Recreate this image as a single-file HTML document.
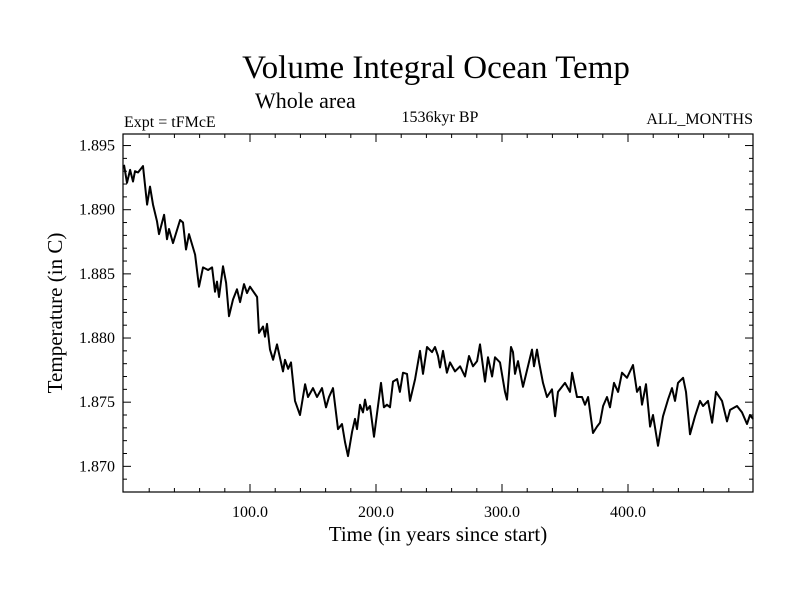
<!DOCTYPE html>
<html><head><meta charset="utf-8"><style>
body{margin:0;background:#fff}
svg text{font-family:"Liberation Serif",serif;fill:#000}
</style></head><body>
<svg width="800" height="600" xmlns="http://www.w3.org/2000/svg">
<text x="436" y="78" font-size="33" text-anchor="middle">Volume Integral Ocean Temp</text>
<text x="255" y="108" font-size="22">Whole area</text>
<text x="124" y="127" font-size="16">Expt = tFMcE</text>
<text x="440" y="122" font-size="16" text-anchor="middle">1536kyr BP</text>
<text x="753" y="124" font-size="16" text-anchor="end">ALL_MONTHS</text>
<text x="438" y="541" font-size="21" text-anchor="middle">Time (in years since start)</text>
<text transform="translate(62,313) rotate(-90)" font-size="21" text-anchor="middle">Temperature (in C)</text>
<g id="ax"></g>
<path id="ln" fill="none" stroke="#000" stroke-width="2" stroke-linejoin="round"/>
<rect x="123" y="134" width="630" height="358" fill="none" stroke="#000" stroke-width="1.2"/>
</svg>
<script>
const years=[0,2.4,4.8,7.1,8.7,11.1,15.1,18.3,20.6,23.0,26.2,27.8,31.8,34.1,35.7,38.9,44.5,46.8,49.2,51.6,56.4,59.5,62.7,66.7,69.9,72.2,73.8,75.4,78.6,81.0,83.3,86.5,89.7,92.1,95.2,97.6,100.0,105.6,107.1,110.3,111.9,113.5,115.9,118.3,121.4,126.2,127.8,130.2,132.5,135.7,139.7,143.7,146.0,150.0,153.2,157.1,160.3,162.7,165.9,169.8,173.0,175.4,177.8,181.0,183.3,184.9,187.3,189.7,191.3,192.9,195.2,198.4,204.0,206.3,208.7,211.1,213.5,216.7,219.0,221.4,224.6,227.0,231.0,234.9,237.3,240.5,244.4,246.8,249.2,250.8,253.2,256.3,258.7,262.7,266.7,270.6,273.8,277.0,280.2,282.5,286.5,288.9,292.1,294.4,298.4,302.4,304.0,307.1,308.7,310.3,312.7,316.7,323.8,325.4,327.8,329.4,332.5,335.7,339.7,342.1,344.4,347.6,350.0,354.0,355.6,359.5,363.5,365.9,368.3,372.2,375.4,377.8,380.2,383.3,385.7,388.9,392.1,395.2,399.2,404.0,407.1,409.5,411.1,414.3,417.5,419.8,423.8,427.8,431.7,434.9,437.3,439.7,443.7,446.0,449.2,453.2,457.1,459.5,463.5,466.7,469.8,474.6,478.6,481.0,486.5,490.5,494.4,496.8,499.2];
const temps=[1.8935,1.8921,1.8931,1.8922,1.8930,1.8929,1.8934,1.8904,1.8918,1.8904,1.8891,1.8881,1.8896,1.8877,1.8885,1.8874,1.8892,1.8890,1.8869,1.8881,1.8865,1.8840,1.8855,1.8853,1.8855,1.8836,1.8844,1.8832,1.8856,1.8843,1.8817,1.8830,1.8838,1.8828,1.8842,1.8835,1.8840,1.8832,1.8804,1.8809,1.8801,1.8811,1.8791,1.8783,1.8795,1.8774,1.8783,1.8776,1.8781,1.8751,1.8740,1.8764,1.8754,1.8761,1.8754,1.8761,1.8746,1.8754,1.8761,1.8729,1.8733,1.8719,1.8708,1.8727,1.8737,1.8729,1.8748,1.8742,1.8752,1.8744,1.8747,1.8723,1.8765,1.8746,1.8748,1.8746,1.8766,1.8768,1.8758,1.8773,1.8772,1.8751,1.8768,1.8790,1.8772,1.8793,1.8789,1.8793,1.8786,1.8777,1.8790,1.8773,1.8781,1.8774,1.8778,1.8770,1.8786,1.8778,1.8782,1.8795,1.8766,1.8785,1.8770,1.8785,1.8781,1.8758,1.8752,1.8793,1.8789,1.8772,1.8782,1.8762,1.8791,1.8778,1.8791,1.8781,1.8765,1.8754,1.8760,1.8739,1.8758,1.8762,1.8765,1.8758,1.8773,1.8754,1.8754,1.8748,1.8754,1.8726,1.8731,1.8734,1.8747,1.8754,1.8746,1.8765,1.8758,1.8773,1.8769,1.8779,1.8758,1.8762,1.8748,1.8764,1.8731,1.8740,1.8716,1.8739,1.8752,1.8761,1.8751,1.8765,1.8769,1.8758,1.8725,1.8739,1.8751,1.8747,1.8751,1.8734,1.8758,1.8751,1.8735,1.8744,1.8747,1.8742,1.8733,1.8740,1.8737];
const xTickLabels=["100.0","200.0","300.0","400.0"];
const xTickValues=[100,200,300,400];
const yTickLabels=["1.870","1.875","1.880","1.885","1.890","1.895"];
const yTickValues=[1.870,1.875,1.880,1.885,1.890,1.895];
const X0=123,X1=753,Y0=492,Y1=134,xmin=-0.8,xmax=499.2,ymin=1.8680,ymax=1.8959;
const sx=v=>X0+(v-xmin)/(xmax-xmin)*(X1-X0);
const sy=v=>Y0-(v-ymin)/(ymax-ymin)*(Y0-Y1);
const NS='http://www.w3.org/2000/svg';
const ax=document.getElementById('ax');
function line(x1,y1,x2,y2,name){const l=document.createElementNS(NS,'line');l.setAttribute('x1',x1);l.setAttribute('y1',y1);l.setAttribute('x2',x2);l.setAttribute('y2',y2);l.setAttribute('stroke','#000');l.setAttribute('stroke-width','1');


ax.appendChild(l);}
function txt(x,y,s,anchor,name){const t=document.createElementNS(NS,'text');t.setAttribute('x',x);t.setAttribute('y',y);t.setAttribute('font-size','16');t.setAttribute('text-anchor',anchor);t.textContent=s;


ax.appendChild(t);}
for(let v=20;v<xmax;v+=20){const x=sx(v);const maj=v%100===0;const L=maj?8:4;line(x,Y0,x,Y0-L,'x-tick');line(x,Y1,x,Y1+L,'x-tick-top');}
xTickValues.forEach((v,i)=>txt(sx(v),517,xTickLabels[i],'middle','x-tick-label'));
for(let k=1869;k<=1895;k++){const v=k/1000;const y=sy(v);const maj=k%5===0;const L=maj?8:4;line(X0,y,X0+L,y,'y-tick');line(X1,y,X1-L,y,'y-tick-right');}
yTickValues.forEach((v,i)=>txt(115,sy(v)+5,yTickLabels[i],'end','y-tick-label'));
let d='';years.forEach((v,i)=>{d+=(i?'L':'M')+sx(v).toFixed(1)+','+sy(temps[i]).toFixed(1);});
document.getElementById('ln').setAttribute('d',d);
</script>
</body></html>
